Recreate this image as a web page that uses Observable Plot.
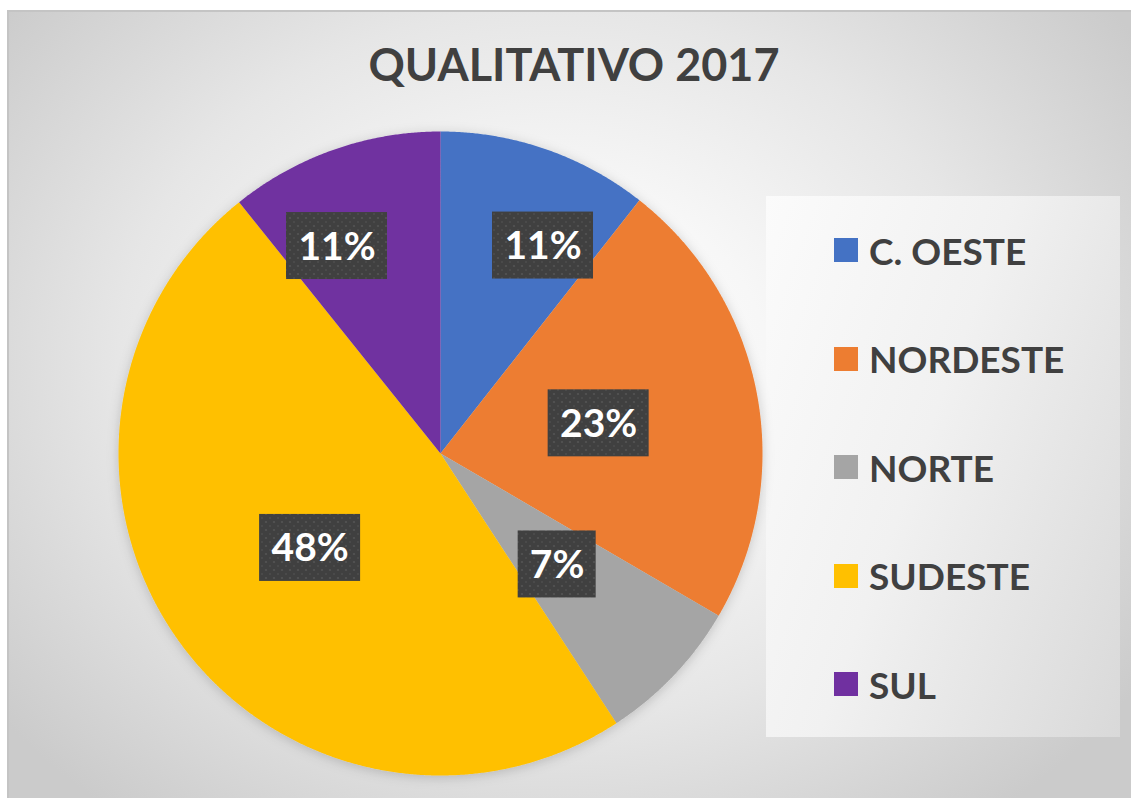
<!DOCTYPE html>
<html>
<head>
<meta charset="utf-8">
<script src="https://cdn.jsdelivr.net/npm/d3@7"></script>
<script src="https://cdn.jsdelivr.net/npm/@observablehq/plot@0.6"></script>
<style>
  html, body { margin: 0; padding: 0; background: #ffffff; }
  #wrap { position: relative; width: 1131px; height: 798px; overflow: hidden; background: #ffffff;
          font-family: Lato, "Open Sans", sans-serif; }
  #frame { position: absolute; left: 7px; top: 10px; width: 1140px; height: 800px; box-sizing: border-box;
           border-top: 2px solid #c4c4c4; border-left: 2px solid #c4c4c4;
           background: radial-gradient(ellipse 62% 72% at 48% 44%, #ffffff 0%, #f7f7f7 30%, #e6e6e6 62%, #cbcbcb 100%); }
  #title { position: absolute; left: 12px; width: 1124px; top: 36px; text-align: center; color: #404040;
           font-size: 45px; font-weight: bold; line-height: 56px; }
  #legend { position: absolute; left: 766px; top: 196px; width: 354px; height: 541px;
            background: linear-gradient(110deg, #fbfbfb 0%, #f1f1f1 45%, #d9d9d9 100%); }
  .item { position: absolute; left: 68px; height: 40px; display: flex; align-items: center;
          color: #404040; font-size: 37px; font-weight: bold; }
  .sw { width: 24px; height: 24px; margin-right: 11px; flex: none; }
  #chart { position: absolute; left: 0; top: 0; }
</style>
</head>
<body>
<div id="wrap">
  <div id="frame"></div>
  <div id="title"></div>
  <div id="legend"></div>
  <div id="chart"></div>
</div>
<script>
// ---- data ----
const regions = ["C. OESTE", "NORDESTE", "NORTE", "SUDESTE", "SUL"];
const shares = [10.6, 22.8, 7.4, 48.45, 10.75];
const colors = ["#4472C4", "#ED7D31", "#A5A5A5", "#FFC000", "#7030A0"];
const chartTitle = "QUALITATIVO 2017";

// ---- layout ----
const W = 1131, H = 798;
const CX = 440, CY = 453, R = 322;

document.getElementById("title").textContent = chartTitle;

// legend
const legend = document.getElementById("legend");
regions.forEach((name, i) => {
  const it = document.createElement("div");
  it.className = "item";
  it.style.top = (54 + i * 108.5 - 20) + "px";
  const sw = document.createElement("div");
  sw.className = "sw";
  sw.style.background = colors[i];
  const tx = document.createElement("span");
  tx.textContent = name;
  it.appendChild(sw); it.appendChild(tx);
  legend.appendChild(it);
});

// slices
const total = d3.sum(shares);
let acc = 0;
const slices = shares.map((v, i) => {
  const a0 = acc / total * 2 * Math.PI;
  acc += v;
  const a1 = acc / total * 2 * Math.PI;
  return {region: regions[i], value: v, a0, a1, frac: v / total};
});

const pts = [];
for (const s of slices) {
  pts.push({region: s.region, X: 0, Y: 0});
  const n = Math.max(2, Math.ceil((s.a1 - s.a0) / 0.005));
  for (let k = 0; k <= n; k++) {
    const a = s.a0 + (s.a1 - s.a0) * k / n;
    pts.push({region: s.region, X: Math.sin(a), Y: Math.cos(a)});
  }
  pts.push({region: s.region, X: 0, Y: 0});
}

// data labels (best-fit style)
const TWO_PI = 2 * Math.PI;
const labels = slices.map(s => {
  const mid = (s.a0 + s.a1) / 2;
  const touchesTop = s.a0 < 1e-9 || Math.abs(s.a1 - TWO_PI) < 1e-9;
  const small = s.frac < 0.15 && touchesTop;
  let ang = mid;
  if (small) ang += (mid < Math.PI ? 1 : -1) * 0.125;
  const rr = small ? 0.72 : 0.5;
  const text = Math.round(s.frac * 100) + "%";
  const wPx = 23 * text.length + 32;
  return {X: rr * Math.sin(ang), Y: rr * Math.cos(ang), text, w: wPx / R, h: 67 / R};
});

const plot = Plot.plot({
  width: W, height: H,
  marginTop: 0, marginRight: 0, marginBottom: 0, marginLeft: 0,
  style: {background: "transparent", overflow: "visible"},
  x: {domain: [-CX / R, (W - CX) / R], axis: null},
  y: {domain: [(CY - H) / R, CY / R], axis: null},
  color: {domain: regions, range: colors},
  marks: [
    Plot.line(pts, {x: "X", y: "Y", z: "region", fill: "region", stroke: "none", curve: "linear"}),
    Plot.rect(labels, {x1: d => d.X - d.w / 2, x2: d => d.X + d.w / 2,
                       y1: d => d.Y - d.h / 2, y2: d => d.Y + d.h / 2, fill: "url(#dots)"}),
    Plot.text(labels, {x: "X", y: "Y", text: "text", fill: "white", fontSize: 39, fontWeight: "bold",
                       fontFamily: "Lato, 'Open Sans', sans-serif", dy: 1})
  ]
});

const svg = d3.select(plot);
const defs = svg.insert("defs", ":first-child");
const pat = defs.append("pattern").attr("id", "dots").attr("patternUnits", "userSpaceOnUse")
  .attr("width", 8).attr("height", 8);
pat.append("rect").attr("width", 8).attr("height", 8).attr("fill", "#404040");
pat.append("circle").attr("cx", 2).attr("cy", 2).attr("r", 1.1).attr("fill", "#545454");
pat.append("circle").attr("cx", 6).attr("cy", 6).attr("r", 1.1).attr("fill", "#4c4c4c");
const f = defs.append("filter").attr("id", "shadow").attr("x", "-20%").attr("y", "-20%")
  .attr("width", "150%").attr("height", "160%");
f.append("feDropShadow").attr("dx", 3).attr("dy", 4).attr("stdDeviation", 3)
  .attr("flood-color", "#000").attr("flood-opacity", 0.45);
const g = defs.append("filter").attr("id", "glow").attr("x", "-10%").attr("y", "-10%")
  .attr("width", "120%").attr("height", "120%");
g.append("feDropShadow").attr("dx", 0).attr("dy", 2).attr("stdDeviation", 6)
  .attr("flood-color", "#000").attr("flood-opacity", 0.18);
svg.selectAll("rect").filter(function() { return this.getAttribute("fill") === "url(#dots)"; })
  .attr("filter", "url(#shadow)");
const lineG = plot.querySelector("g[aria-label='line']");
if (lineG) lineG.setAttribute("filter", "url(#glow)");

document.getElementById("chart").appendChild(plot);
</script>
</body>
</html>
